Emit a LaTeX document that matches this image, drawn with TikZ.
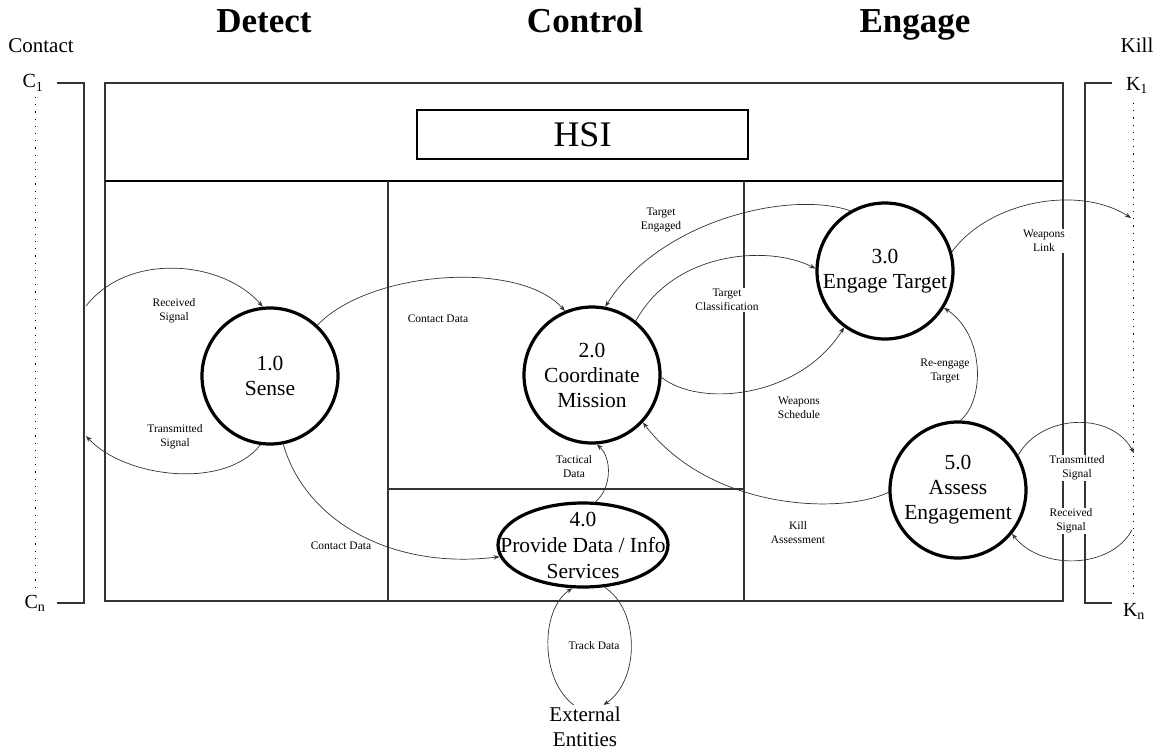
\documentclass[tikz,border=0pt]{standalone}
\usepackage{fontspec}
\setmainfont{Liberation Serif}
\usetikzlibrary{arrows.meta,shapes.geometric}
\tikzset{
  frame/.style={draw=black!80, line width=1.2pt},
  proc/.style={circle, draw=black, line width=3.2pt, minimum size=136pt, inner sep=0pt,
    align=center, font=\fontsize{21.5}{25}\selectfont},
  flow/.style={draw=black!80, line width=0.7pt, -{Stealth[length=6pt,width=4.5pt]}},
  lbl/.style={fill=white, inner sep=1pt, align=center, font=\fontsize{11.5}{14}\selectfont},
  title/.style={anchor=base, font=\fontsize{35}{40}\selectfont\bfseries},
  side/.style={anchor=base, font=\fontsize{21}{25}\selectfont},
  dots/.style={draw=black, line width=0.9pt, dash pattern=on 1.2pt off 6pt},
}
\begin{document}
\begin{tikzpicture}[x=1pt,y=-1pt]
\useasboundingbox (0,0) rectangle (1162,752);

% titles
\node[title] (tdet) at (264,33) {Detect};
\node[title] (tctl) at (585,33) {Control};
\node[title] (teng) at (915,33) {Engage};
\node[side] (contact) at (41,53) {Contact};
\node[side] (kill) at (1137,53) {Kill};

% contact / kill brackets
\node[side, font=\fontsize{20}{24}\selectfont] (c1) at (33,88) {C\textsubscript{1}};
\node[side, font=\fontsize{20}{24}\selectfont] (cn) at (35,608) {C\textsubscript{n}};
\node[side, font=\fontsize{20}{24}\selectfont] (k1) at (1137,90) {K\textsubscript{1}};
\node[side, font=\fontsize{20}{24}\selectfont] (kn) at (1134,616) {K\textsubscript{n}};
\draw[dots] (35,97) -- (35,592);
\draw[dots] (1133,103) -- (1133,594);
\draw[frame] (57,83) -- (84,83) -- (84,603) -- (57,603);
\draw[frame] (1112,83) -- (1085,83) -- (1085,603) -- (1112,603);

% main frame
\draw[frame] (105,83) rectangle (1063,601);
\draw[draw=black, line width=2pt] (105,181) -- (1063,181);
\draw[frame] (388,181) -- (388,601);
\draw[frame] (744,181) -- (744,601);
\draw[frame] (388,489) -- (744,489);

% HSI
\node[draw=black, line width=2pt, minimum width=331pt, minimum height=49pt, inner sep=0pt,
  font=\fontsize{36}{40}\selectfont] (hsi) at (582.5,134.5) {HSI};

% processes
\node[proc] (sense) at (270,376) {1.0\\Sense};
\node[proc] (coord) at (592,375) {2.0\\Coordinate\\Mission};
\node[proc] (eng) at (885,271) {3.0\\Engage Target};
\node[proc] (assess) at (958,490) {5.0\\Assess\\Engagement};
\node[ellipse, draw=black, line width=3.2pt, minimum width=170pt, minimum height=84pt, inner sep=0pt,
  label={[align=center, font=\fontsize{21.5}{26}\selectfont]center:4.0\\Provide Data / Info\\Services}]
  (prov) at (583,545) {};
\node[align=center, inner sep=2pt, font=\fontsize{21}{25}\selectfont] (ext) at (585,727) {External\\Entities};

% free ends on the contact / kill lines
\coordinate (rsL) at (86,306);
\coordinate (tsL) at (86,436);
\coordinate (wlR) at (1131,218);
\coordinate (tsR) at (1134,453);
\coordinate (rsR) at (1132,530);

% connectors
\draw[flow] (rsL) .. controls (130,250) and (225,262) .. (sense.96);
\draw[flow] (sense.262) .. controls (225,490) and (125,478) .. (tsL);
\draw[flow] (sense.47) .. controls (370,270) and (520,260) .. (coord.113);
\draw[flow] (sense.281) .. controls (305,520) and (390,570) .. (prov.188);
\draw[flow] (prov.74) .. controls (612,488) and (612,458) .. (coord.274);
\draw[flow] (eng.120) .. controls (790,190) and (660,220) .. (coord.79);
\draw[flow] (coord.51) .. controls (675,250) and (770,245) .. (eng.178);
\draw[flow] (coord.358) .. controls (700,408) and (800,398) .. (eng.234);
\draw[flow] (eng.16) .. controls (990,200) and (1080,185) .. (wlR);
\draw[flow] (assess.88) .. controls (985,400) and (985,335) .. (eng.328);
\draw[flow] (assess.182) .. controls (840,515) and (710,510) .. (coord.317);
\draw[flow] (assess.30) .. controls (1040,415) and (1110,410) .. (tsR);
\draw[flow] (rsR) .. controls (1110,570) and (1040,570) .. (assess.321);
\draw[flow] (ext.117) .. controls (540,680) and (540,610) .. (prov.256);
\draw[flow] (prov.297) .. controls (640,610) and (640,680) .. (ext.50);

% connector labels
\node[lbl] (l1) at (174,311) {Received\\Signal};
\node[lbl] (l2) at (175,437) {Transmitted\\Signal};
\node[lbl] (l3) at (438,319) {Contact Data};
\node[lbl] (l4) at (341,546) {Contact Data};
\node[lbl] (l5) at (574,467) {Tactical\\Data};
\node[lbl] (l6) at (661,220) {Target\\Engaged};
\node[lbl] (l7) at (727,300) {Target\\Classification};
\node[lbl] (l8) at (799,408) {Weapons\\Schedule};
\node[lbl] (l9) at (1044,241) {Weapons\\Link};
\node[lbl] (l10) at (945,371) {Re-engage\\Target};
\node[lbl] (l11) at (798,533) {Kill\\Assessment};
\node[lbl] (l12) at (1077,468) {Transmitted\\Signal};
\node[lbl] (l13) at (1071,521) {Received\\Signal};
\node[lbl] (l14) at (594,646) {Track Data};
\end{tikzpicture}
\end{document}
